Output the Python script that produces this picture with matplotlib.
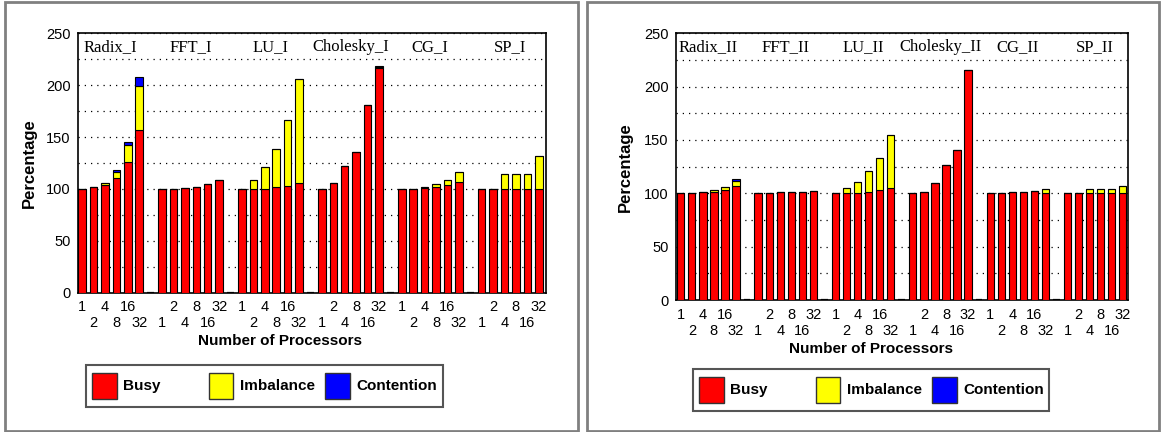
import matplotlib.pyplot as plt
from matplotlib.patches import Rectangle

# processor counts per benchmark, and the two result sets
procs = [1, 2, 4, 8, 16, 32]

apps_1 = ["Radix_I", "FFT_I", "LU_I", "Cholesky_I", "CG_I", "SP_I"]
busy_1 = [
    [100, 102, 104, 111, 126, 157],
    [100, 100, 101, 102, 104.7, 109],
    [100, 100, 100, 101.5, 103, 106],
    [100, 106, 121.7, 136, 180.5, 217],
    [100, 100, 101, 101.5, 103.4, 106.3],
    [100, 100, 100, 100, 100, 100],
]
imbalance_1 = [
    [0, 0, 1.5, 5, 16, 42],
    [0, 0, 0, 0, 0, 0],
    [0, 9, 21, 37, 63, 100],
    [0, 0, 0, 0, 0, 1],
    [0, 0, 1, 3, 5, 10],
    [0, 0, 14.7, 14.7, 14.7, 31.4],
]
contention_1 = [
    [0, 0, 0.5, 2, 3, 9],
    [0, 0, 0, 0, 0, 0],
    [0, 0, 0, 0, 0, 0],
    [0, 0, 0, 0, 0, 0.5],
    [0, 0, 0, 0, 0, 0],
    [0, 0, 0, 0, 0, 0],
]

apps_2 = ["Radix_II", "FFT_II", "LU_II", "Cholesky_II", "CG_II", "SP_II"]
busy_2 = [
    [100, 100.6, 101, 101.2, 102.8, 107],
    [100, 100.6, 101, 101, 101.3, 101.9],
    [100, 100, 100, 101, 102.8, 105.3],
    [100, 101, 109.7, 126.6, 140.3, 216],
    [100, 100.6, 101, 101.2, 102, 100.6],
    [100, 100, 100, 100, 100, 100],
]
imbalance_2 = [
    [0, 0, 0, 1.5, 3, 5],
    [0, 0, 0, 0, 0, 0],
    [0, 5, 11, 19.6, 30.6, 49],
    [0, 0, 0, 0, 0, 0],
    [0, 0, 0, 0, 0, 3],
    [0, 0, 3.75, 3.75, 3.75, 6.9],
]
contention_2 = [
    [0, 0, 0, 0, 0.2, 1.7],
    [0, 0, 0, 0, 0, 0],
    [0, 0, 0, 0, 0, 0],
    [0, 0, 0, 0, 0, 0],
    [0, 0, 0, 0, 0, 0],
    [0, 0, 0, 0, 0, 0],
]

series_names = ["Busy", "Imbalance", "Contention"]
series_colors = ["#ff0000", "#ffff00", "#0000ff"]

plt.rcParams['font.family'] = ['Liberation Sans', 'DejaVu Sans']

W, H = 1162, 432
fig = plt.figure(figsize=(W / 100, H / 100), dpi=100)


def px_rect(x0, y0, x1, y1):
    # pixel box (top-left origin) -> figure fraction rect
    return [x0 / W, 1 - y1 / H, (x1 - x0) / W, (y1 - y0) / H]


def draw_panel(border, axbox, xlim, ylab_x, legbox, apps, busy, imb, cont):
    bx = px_rect(*border)
    fig.patches.append(Rectangle((bx[0], bx[1]), bx[2], bx[3], transform=fig.transFigure,
                                 fill=False, edgecolor="#808080", lw=2))
    ax = fig.add_axes(px_rect(*axbox))

    n = len(procs)
    for g in range(len(apps)):
        xs = [g * (n + 1) + i for i in range(n)]
        b = busy[g]
        y = imb[g]
        c = cont[g]
        top = [b[i] + y[i] for i in range(n)]
        ax.bar(xs, b, width=0.66, color=series_colors[0], edgecolor="black", lw=0.8, zorder=3)
        ax.bar(xs, y, bottom=b, width=0.66, color=series_colors[1], edgecolor="black", lw=0.8, zorder=3)
        ax.bar(xs, c, bottom=top, width=0.66, color=series_colors[2], edgecolor="black", lw=0.8, zorder=3)
        ax.text(g * (n + 1) + (n - 1) / 2, 237, apps[g], ha="center", va="center",
                family="Liberation Serif", fontsize=12, zorder=4)
        if g < len(apps) - 1:
            ax.bar([g * (n + 1) + n], [0], width=0.6, color="black", edgecolor="black", lw=1.6, zorder=3)

    # slot labels alternate between two rows: even slots on major ticks, odd on minor
    total = len(apps) * (n + 1) - 1
    row1, row1_lab, row2, row2_lab = [], [], [], []
    for k in range(total):
        lab = "" if k % (n + 1) == n else str(procs[k % (n + 1)])
        if k % 2 == 0:
            row1.append(k)
            row1_lab.append(lab)
        else:
            row2.append(k)
            row2_lab.append(lab)
    ax.set_xticks(row1)
    ax.set_xticklabels(row1_lab)
    ax.set_xticks(row2, minor=True)
    ax.set_xticklabels(row2_lab, minor=True)
    ax.set_xlim(*xlim)
    ax.set_ylim(0, 250)
    ax.set_yticks(range(0, 251, 50))
    ax.set_yticks(range(25, 250, 50), minor=True)
    ax.tick_params(axis="both", which="both", length=0, labelsize=10.5)
    ax.tick_params(axis="x", which="major", pad=5.5)
    ax.tick_params(axis="x", which="minor", pad=17)
    ax.tick_params(axis="y", pad=5)
    ax.grid(axis="y", which="both", color="black", lw=0.9, ls=(0, (1, 4)), zorder=0)
    for s in ax.spines.values():
        s.set_linewidth(1.2)
    ax.set_ylabel("Percentage", fontsize=12, fontweight="bold")
    ax.yaxis.set_label_coords(ylab_x, 0.5)
    ax.set_xlabel("Number of Processors", fontsize=11, fontweight="bold")
    ax.xaxis.set_label_coords(0.432, -0.185)
    ax.xaxis.label.set_va("center")

    # legend box drawn by hand so the columns keep a fixed pitch
    lx0, ly0, lx1, ly1 = legbox
    lb = px_rect(lx0, ly0, lx1, ly1)
    fig.patches.append(Rectangle((lb[0], lb[1]), lb[2], lb[3], transform=fig.transFigure,
                                 facecolor="white", edgecolor="#555555", lw=1.5))
    pitch = 116.6
    for k, (name, col) in enumerate(zip(series_names, series_colors)):
        px0 = lx0 + 6 + k * pitch
        pr = px_rect(px0, ly0 + 8, px0 + 24.5, ly0 + 33.5)
        fig.patches.append(Rectangle((pr[0], pr[1]), pr[2], pr[3], transform=fig.transFigure,
                                     facecolor=col, edgecolor="#333333", lw=1))
        fig.text((px0 + 31) / W, 1 - (ly0 + 21) / H, name, fontsize=11, fontweight="bold",
                 ha="left", va="center")
    return ax


draw_panel((5, 2, 578, 431), (77.7, 33.3, 545.7, 292.7), (-0.39, 40.61), -0.087,
           (86, 365, 443, 407), apps_1, busy_1, imbalance_1, contention_1)
draw_panel((587, 2, 1159, 431), (675.7, 33.3, 1128.3, 300), (-0.46, 40.5), -0.094,
           (693, 369, 1049, 411), apps_2, busy_2, imbalance_2, contention_2)

fig.savefig("out.png", dpi=100)
